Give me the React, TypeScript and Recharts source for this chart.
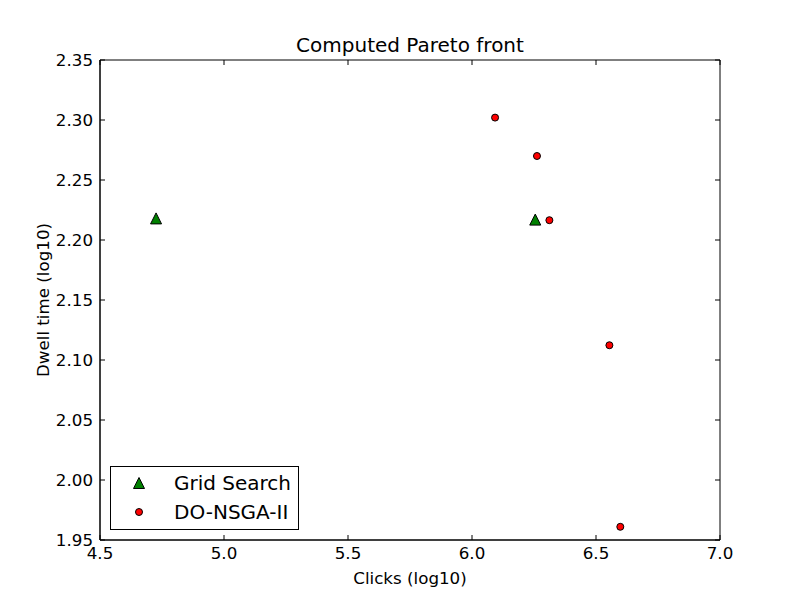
import React from "react";
import {
	ScatterChart,
	Scatter,
	XAxis,
	YAxis,
	ReferenceArea,
	Legend,
	Label,
} from "recharts";

const gridSearch = [
	{ clicks: 4.726, dwell: 2.218 },
	{ clicks: 6.255, dwell: 2.217 },
];

const doNsga = [
	{ clicks: 6.093, dwell: 2.302 },
	{ clicks: 6.262, dwell: 2.27 },
	{ clicks: 6.312, dwell: 2.2165 },
	{ clicks: 6.554, dwell: 2.1123 },
	{ clicks: 6.598, dwell: 1.961 },
];

const xTicks = [4.5, 5.0, 5.5, 6.0, 6.5, 7.0];
const yTicks = [1.95, 2.0, 2.05, 2.1, 2.15, 2.2, 2.25, 2.3, 2.35];

const FONT = "DejaVu Sans";
const PLOT_H = 480;
const PLOT_W = 620;
const TICK_LEN = 5;

const XTick = (props: any) => {
	const { x, y, payload } = props;
	return (
		<g>
			<line x1={x} y1={y} x2={x} y2={y - TICK_LEN} stroke="#000" />
			<line x1={x} y1={y - PLOT_H} x2={x} y2={y - PLOT_H + TICK_LEN} stroke="#000" />
			<text x={x} y={y + 19} textAnchor="middle" fontSize={16.7} fontFamily={FONT} fill="#000">
				{Number(payload.value).toFixed(1)}
			</text>
		</g>
	);
};

const YTick = (props: any) => {
	const { x, y, payload } = props;
	return (
		<g>
			<line x1={x} y1={y} x2={x + TICK_LEN} y2={y} stroke="#000" />
			<line x1={x + PLOT_W} y1={y} x2={x + PLOT_W - TICK_LEN} y2={y} stroke="#000" />
			<text x={x - 7} y={y + 6} textAnchor="end" fontSize={16.7} fontFamily={FONT} fill="#000">
				{Number(payload.value).toFixed(2)}
			</text>
		</g>
	);
};

const Triangle = (props: any) => {
	const { cx, cy } = props;
	const s = 5.5;
	return (
		<path
			d={`M${cx},${cy - s} L${cx + s},${cy + s} L${cx - s},${cy + s} Z`}
			fill="#008000"
			stroke="#000"
			strokeWidth={1}
		/>
	);
};

const Dot = (props: any) => {
	const { cx, cy } = props;
	return <circle cx={cx} cy={cy} r={3.5} fill="#ff0000" stroke="#000" strokeWidth={1} />;
};

const LegendBox = () => (
	<div
		style={{
			width: 189,
			height: 64,
			border: "1px solid #000",
			background: "#fff",
			boxSizing: "border-box",
			position: "relative",
			fontFamily: FONT,
			fontSize: 20,
		}}
	>
		<svg width={60} height={62} style={{ position: "absolute", left: 0, top: 0 }}>
			<Triangle cx={28} cy={16} />
			<Dot cx={28} cy={45} />
		</svg>
		<div style={{ position: "absolute", left: 63, top: 4, lineHeight: "24px" }}>Grid Search</div>
		<div style={{ position: "absolute", left: 63, top: 33, lineHeight: "24px" }}>DO-NSGA-II</div>
	</div>
);

export default function App() {
	return (
		<div style={{ position: "absolute", left: 0, top: 0, width: 800, height: 600, background: "#fff" }}>
			<div
				style={{
					position: "absolute",
					left: 100,
					width: PLOT_W,
					top: 33,
					textAlign: "center",
					fontFamily: FONT,
					fontSize: 20,
					lineHeight: "24px",
				}}
			>
				Computed Pareto front
			</div>
			<ScatterChart width={800} height={600} margin={{ top: 60, right: 80, bottom: 0, left: 0 }}>
				<XAxis
					type="number"
					dataKey="clicks"
					domain={[4.5, 7.0]}
					ticks={xTicks}
					height={60}
					tickSize={0}
					tickMargin={0}
					tickLine={false}
					axisLine={{ stroke: "#000" }}
					tick={<XTick />}
					interval={0}
				>
					<Label
						value="Clicks (log10)"
						position="insideBottom"
						offset={16}
						style={{ fontFamily: FONT, fontSize: 16.7, fill: "#000" }}
					/>
				</XAxis>
				<YAxis
					type="number"
					dataKey="dwell"
					domain={[1.95, 2.35]}
					ticks={yTicks}
					width={100}
					tickSize={0}
					tickMargin={0}
					tickLine={false}
					axisLine={{ stroke: "#000" }}
					tick={<YTick />}
					interval={0}
				>
					<Label
						value="Dwell time (log10)"
						angle={-90}
						position="insideLeft"
						offset={43}
						style={{ fontFamily: FONT, fontSize: 16.7, fill: "#000", textAnchor: "middle" }}
					/>
				</YAxis>
				<ReferenceArea x1={4.5} x2={7.0} y1={1.95} y2={2.35} fill="none" stroke="#000" strokeOpacity={1} />
				<Scatter name="Grid Search" data={gridSearch} shape={<Triangle />} isAnimationActive={false} />
				<Scatter name="DO-NSGA-II" data={doNsga} shape={<Dot />} isAnimationActive={false} />
				<Legend
					layout="horizontal"
					verticalAlign="middle"
					align="center"
					wrapperStyle={{ left: 110, top: 466, width: 189, height: 64 }}
					content={<LegendBox />}
				/>
			</ScatterChart>
		</div>
	);
}
